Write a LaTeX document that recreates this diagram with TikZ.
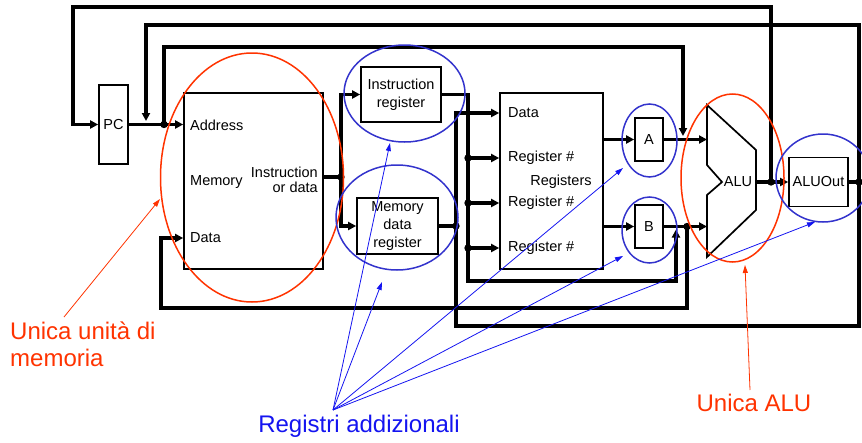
\documentclass[tikz,border=0pt]{standalone}
\usepackage{fontspec}
\setmainfont{Liberation Sans}
\usetikzlibrary{arrows.meta}
\definecolor{ovalred}{RGB}{255,51,0}
\definecolor{ovalblue}{RGB}{51,51,204}
\definecolor{noteblue}{RGB}{20,20,240}
\tikzset{
  unit/.style={draw,line width=1.7pt,inner sep=0pt,align=center},
  bus/.style={line width=3.4pt},
  lbl/.style={inner sep=0pt,anchor=west},
  oval/.style={line width=1.5pt},
  note/.style={line width=0.8pt,-{Triangle[length=8pt,width=5pt]}},
  notetext/.style={inner sep=0pt,font=\fontsize{24}{27}\selectfont}
}
\begin{document}
\begin{tikzpicture}[x=1pt,y=-1pt,font=\fontsize{14.5}{18}\selectfont,>={Triangle[length=8pt,width=8pt]}]
\useasboundingbox (0,0) rectangle (862,442);
% units
\node[unit,minimum width=29pt,minimum height=79pt] (pc) at (113.5,124.5) {PC};
\node[unit,minimum width=139pt,minimum height=176pt] (mem) at (253.5,181) {};
\node[lbl] (maddr) at (190,125) {Address};
\node[lbl] (mname) at (190,182) {Memory};
\node[inner sep=0pt,anchor=east,align=right,font=\fontsize{14.5}{15}\selectfont] (mout) at (318,180) {Instruction\\or data};
\node[lbl] (mdata) at (190,238) {Data};
\node[unit,minimum width=80pt,minimum height=55pt] (ir) at (401,94.5) {Instruction\\register};
\node[unit,minimum width=81pt,minimum height=56pt] (mdr) at (397.5,226) {Memory\\data\\register};
\node[unit,minimum width=103pt,minimum height=176pt] (regs) at (551.5,181) {};
\node[lbl] (rdat) at (508,113) {Data};
\node[lbl] (rn1) at (508,158) {Register \#};
\node[lbl] (rn2) at (508,203) {Register \#};
\node[lbl] (rn3) at (508,248) {Register \#};
\node[inner sep=0pt] (rname) at (561,182) {Registers};
\node[unit,minimum width=28pt,minimum height=43pt] (ra) at (649,139.5) {A};
\node[unit,minimum width=28pt,minimum height=43pt] (rb) at (649,226.5) {B};
\draw[line width=1.7pt] (707,105) -- (756,150) -- (756,210) -- (707,257) -- (707,195) -- (722,182) -- (707,165) -- cycle;
\node[inner sep=0pt] (alu) at (738,182) {ALU};
\node[unit,minimum width=59pt,minimum height=49pt] (aluout) at (818.5,182) {ALUOut};
\coordinate (alua) at (707,139.5);
\coordinate (alub) at (707,226.5);
\coordinate (aluo) at (756,182);
\coordinate (jpc) at (164,124.5);
\coordinate (jmem) at (341,177);
\coordinate (jmdr) at (456,226);
\coordinate (jb) at (687,226.5);
\coordinate (jalu) at (771,182);
\coordinate (jout) at (859,182);
% buses
\draw[bus,->] (jalu) |- (73,7) |- (pc.west);
\draw[bus,->] (jout) |- (146,25) -- (146,121);
\draw[bus,->] (pc.east) -- (mem.west |- pc.east);
\draw[bus,->] (jpc) |- (683,47) -- (683,136);
\draw[bus] (mem.east |- jmem) -- (jmem);
\draw[bus,->] (jmem) |- (ir.west);
\draw[bus,->] (jmem) |- (mdr.west);
\draw[bus] (mdr.east) -- (jmdr);
\draw[bus,->] (jout) |- (456,326) |- (regs.west |- rdat);
\draw[bus,->] (ir.east) -| (468,281) -| (676,229.5);
\foreach \r in {rn1,rn2,rn3}{
  \draw[bus,->] (\r -| 468,0) -- (regs.west |- \r);
  \fill (\r -| 468,0) circle (3.7pt);
}
\draw[bus,->] (regs.east |- ra) -- (ra.west);
\draw[bus,->] (regs.east |- rb) -- (rb.west);
\draw[bus,->] (ra.east) -- (alua);
\draw[bus,->] (rb.east) -- (alub);
\draw[bus,->] (jb) |- (161,308) |- (mem.west |- mdata);
\draw[bus,->] (aluo) -- (aluout.west);
\draw[bus] (aluout.east) -- (jout);
\fill (jpc) circle (3.7pt) (jmem) circle (3.7pt) (jmdr) circle (3.7pt) (jb) circle (3.7pt) (jalu) circle (3.7pt) (jout) circle (3.7pt);
% ovals
\draw[oval,ovalred] (252,177.5) ellipse [x radius=91.5pt, y radius=124.5pt];
\draw[oval,ovalred] (732.5,178) ellipse [x radius=51.5pt, y radius=84pt];
\draw[oval,ovalblue] (404.5,93.5) ellipse [x radius=60.5pt, y radius=48.5pt];
\draw[oval,ovalblue] (397,217.5) ellipse [x radius=61pt, y radius=52.5pt];
\draw[oval,ovalblue] (649.5,140.5) ellipse [x radius=27.5pt, y radius=36.5pt];
\draw[oval,ovalblue] (649.5,230) ellipse [x radius=27.5pt, y radius=33pt];
\draw[oval,ovalblue] (823,178) ellipse [x radius=47pt, y radius=44pt];
% notes
\node[notetext,text=ovalred,align=left,anchor=west] (memnote) at (10,344) {Unica unità di\\memoria};
\node[notetext,text=noteblue] (regnote) at (359,426) {Registri addizionali};
\node[notetext,text=ovalred] (alunote) at (754,403) {Unica ALU};
\coordinate (hub) at (333,410);
\draw[note,ovalred] (64,317) -- (160,199);
\draw[note,ovalred] (750,390) -- (745,265);
\foreach \t in {(390,143),(382,282),(623,168),(623,256),(815,222)}
  \draw[note,noteblue] (hub) -- \t;
\end{tikzpicture}
\end{document}
